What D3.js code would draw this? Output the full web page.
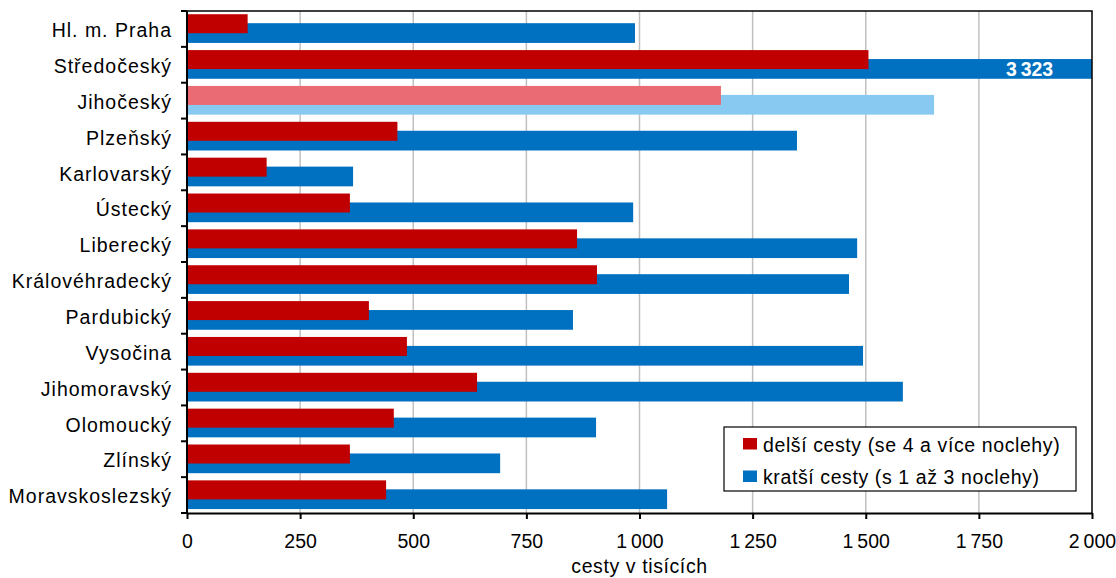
<!DOCTYPE html>
<html><head><meta charset="utf-8">
<script src="https://cdn.jsdelivr.net/npm/d3@7"></script>
<style>body{margin:0;background:#fff}svg{display:block}text{font-family:"Liberation Sans",Arial,sans-serif}</style>
</head><body><svg id="c" width="1116" height="578"></svg>
<script>
const categories = ["Hl. m. Praha","Středočeský","Jihočeský","Plzeňský","Karlovarský","Ústecký","Liberecký","Královéhradecký","Pardubický","Vysočina","Jihomoravský","Olomoucký","Zlínský","Moravskoslezský"];
const longer = [134,1506,1180,465,176,360,862,906,402,486,641,457,360,440];
const shorter = [990,3323,1651,1348,367,986,1481,1463,853,1494,1582,904,692,1061];
const highlight = "Jihočeský";
const xTicks = [0,250,500,750,1000,1250,1500,1750,2000];
const seriesNames = ["delší cesty (se 4 a více noclehy)","kratší cesty (s 1 až 3 noclehy)"];
const axisTitle = "cesty v tisících";

const svg = d3.select("#c");
const L=187,R=1092,T=11,B=513;
const FS=19.5, LS="0.6px";
const x = d3.scaleLinear().domain([0,2000]).range([L,R]);
const y = d3.scaleBand().domain(categories).range([T,B]);
const fmt = v => d3.format(",")(v).replace(/,/g,"\u2009");
const bw = y.bandwidth();

svg.append("g").selectAll("line").data(xTicks.slice(1,-1)).join("line")
  .attr("x1",d=>x(d)).attr("x2",d=>x(d)).attr("y1",T).attr("y2",B)
  .attr("stroke","#c0c0c0").attr("stroke-width",1.5);

svg.append("clipPath").attr("id","pc").append("rect").attr("x",L).attr("y",T).attr("width",R-L).attr("height",B-T);
const g = svg.append("g").attr("clip-path","url(#pc)");
g.selectAll(".b").data(categories).join("rect")
  .attr("x",x(0)).attr("y",d=>y(d)+bw*0.34).attr("height",bw*0.55)
  .attr("width",(d,i)=>x(shorter[i])-x(0))
  .attr("fill",d=>d===highlight?"#87c9f0":"#0070c0");
g.selectAll(".r").data(categories).join("rect")
  .attr("x",x(0)).attr("y",d=>y(d)+bw*0.09).attr("height",bw*0.53)
  .attr("width",(d,i)=>x(longer[i])-x(0))
  .attr("fill",d=>d===highlight?"#ea6b73":"#c00000");

categories.forEach((c,i)=>{
  if(shorter[i]>2000){
    svg.append("text").attr("x",x(1862)).attr("y",y(c)+bw*0.34+bw*0.55/2).attr("dy","0.37em")
      .attr("text-anchor","middle").attr("fill","#fff").attr("font-weight","bold").attr("font-size",19.5)
      .text(fmt(shorter[i]));
  }
});

svg.append("path").attr("d",`M${L},${T}H${R}V${B}`).attr("fill","none").attr("stroke","#000").attr("stroke-width",1.5);

const xa = svg.append("g").attr("transform",`translate(0,${B})`)
  .call(d3.axisBottom(x).tickValues(xTicks).tickFormat(fmt).tickSize(6).tickSizeOuter(0));
xa.select(".domain").attr("stroke","#000").attr("stroke-width",2);
xa.selectAll(".tick line").attr("stroke","#000").attr("stroke-width",2);
xa.selectAll("text").attr("font-size",FS).attr("fill","#000").attr("y",0).attr("dy",34.5)
  .attr("font-family","Liberation Sans, Arial, sans-serif");

const yTickPos = d3.range(categories.length+1).map(i=>T+i*y.step());
svg.append("g").selectAll("line").data(yTickPos).join("line")
  .attr("x1",L-6).attr("x2",L).attr("y1",d=>d).attr("y2",d=>d).attr("stroke","#000").attr("stroke-width",2);
svg.append("line").attr("x1",L).attr("x2",L).attr("y1",T).attr("y2",B+1).attr("stroke","#000").attr("stroke-width",2);
svg.append("g").selectAll("text").data(categories).join("text")
  .attr("x",172).attr("y",d=>y(d)+bw/2).attr("dy","0.42em").attr("text-anchor","end")
  .attr("font-size",FS).attr("letter-spacing","1px").attr("fill","#000").text(d=>d);

svg.append("text").attr("x",(L+R)/2).attr("y",573).attr("text-anchor","middle").attr("font-size",FS).attr("letter-spacing",LS).attr("fill","#000").text(axisTitle);

const lg = svg.append("g");
lg.append("rect").attr("x",724).attr("y",427).attr("width",352).attr("height",64).attr("fill","#fff").attr("stroke","#000").attr("stroke-width",1.2);
const lcol=["#c00000","#0070c0"];
seriesNames.forEach((s,i)=>{
  lg.append("rect").attr("x",743).attr("y",438+i*32.5).attr("width",14).attr("height",11.5).attr("fill",lcol[i]);
  lg.append("text").attr("x",763).attr("y",451.5+i*32.5).attr("font-size",FS).attr("letter-spacing",LS).attr("fill","#000").text(s);
});
</script></body></html>
